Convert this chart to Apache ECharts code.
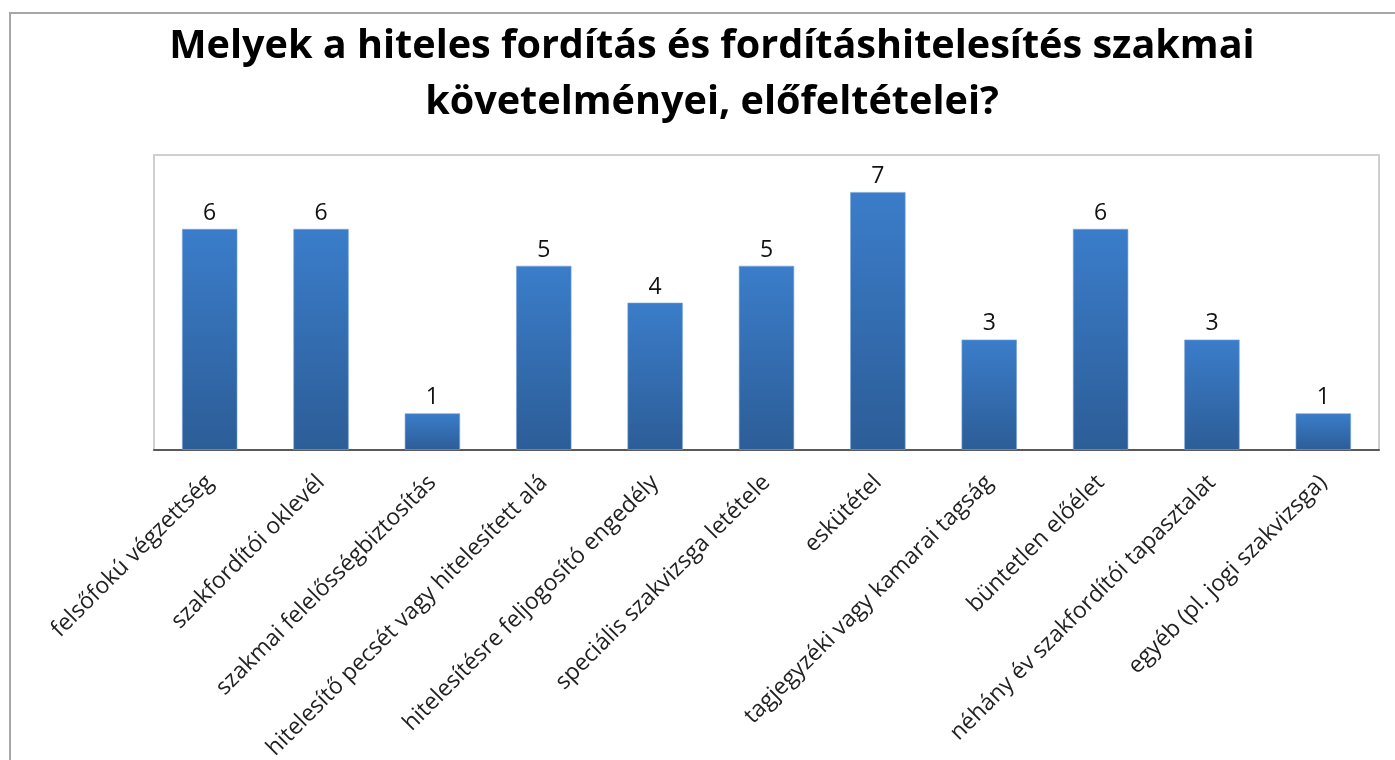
<!DOCTYPE html>
<html>
<head>
<meta charset="utf-8">
<script src="https://cdn.jsdelivr.net/npm/echarts@6/dist/echarts.min.js"></script>
<style>
  html, body { margin: 0; padding: 0; background: #ffffff; }
  #chart { width: 1395px; height: 760px; }
</style>
</head>
<body>
<div id="chart"></div>
<script>
// Survey answers: professional requirements for certified translation
const titleText = 'Melyek a hiteles fordítás és fordításhitelesítés szakmai\nkövetelményei, előfeltételei?';
const categories = [
  'felsőfokú végzettség',
  'szakfordítói oklevél',
  'szakmai felelősségbiztosítás',
  'hitelesítő pecsét vagy hitelesített alá',
  'hitelesítésre feljogosító engedély',
  'speciális szakvizsga letétele',
  'eskütétel',
  'tagjegyzéki vagy kamarai tagság',
  'büntetlen előélet',
  'néhány év szakfordítói tapasztalat',
  'egyéb (pl. jogi szakvizsga)'
];
const counts = [6, 6, 1, 5, 4, 5, 7, 3, 6, 3, 1];

const chart = echarts.init(document.getElementById('chart'), null, { renderer: 'canvas' });

chart.setOption({
  backgroundColor: '#ffffff',
  animation: false,
  title: {
    text: titleText,
    left: 707,
    textAlign: 'center',
    top: 14,
    textStyle: {
      fontFamily: 'Open Sans',
      fontWeight: 'bold',
      fontSize: 39.6,
      lineHeight: 56,
      color: '#000000'
    }
  },
  graphic: [
    {
      type: 'rect',
      shape: { x: 10, y: 13, width: 1500, height: 900 },
      style: { fill: 'none', stroke: '#a6a6a6', lineWidth: 2 },
      silent: true,
      z: -1
    }
  ],
  grid: {
    left: 154,
    right: 16,
    top: 155,
    bottom: 310,
    containLabel: false,
    outerBoundsMode: 'none',
    show: true,
    borderColor: '#cfcfcf',
    borderWidth: 2,
    backgroundColor: 'transparent'
  },
  xAxis: {
    type: 'category',
    data: categories,
    axisLine: { show: true, lineStyle: { color: '#595959', width: 2 } },
    axisTick: { show: false },
    axisLabel: {
      interval: 0,
      rotate: 45,
      margin: 29,
      fontFamily: 'Open Sans',
      fontSize: 23,
      color: '#222222'
    }
  },
  yAxis: {
    type: 'value',
    min: 0,
    max: 8,
    interval: 1,
    axisLine: { show: false },
    axisTick: { show: false },
    axisLabel: { show: false },
    splitLine: { show: false }
  },
  series: [
    {
      type: 'bar',
      data: counts,
      barWidth: '50%',
      itemStyle: {
        color: new echarts.graphic.LinearGradient(0, 0, 0, 1, [
          { offset: 0, color: '#3b7dca' },
          { offset: 1, color: '#2c5d97' }
        ]),
        borderColor: 'rgba(120,165,220,0.6)',
        borderWidth: 1
      },
      label: {
        show: true,
        position: 'top',
        distance: 4,
        fontFamily: 'Open Sans',
        fontSize: 23,
        color: '#111111'
      }
    }
  ]
});
</script>
</body>
</html>
